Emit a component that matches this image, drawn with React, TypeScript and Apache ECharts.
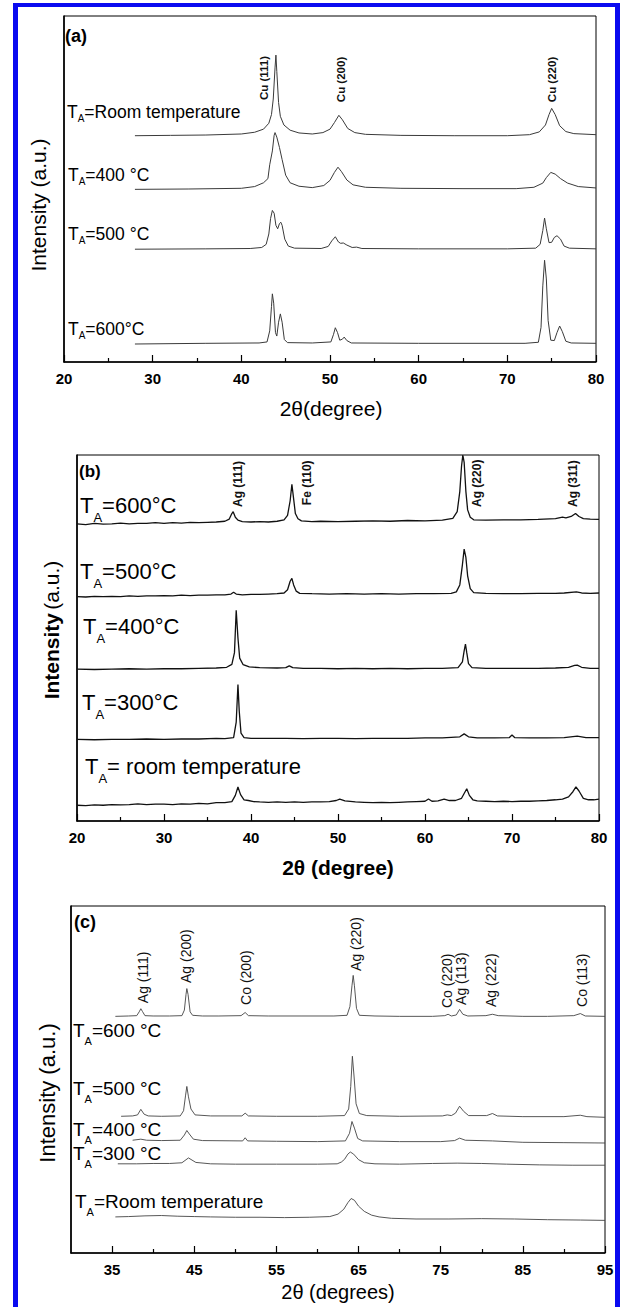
import React, { useEffect, useRef } from "react";
import * as echarts from "echarts";

// ---------------- Panel (a) data ----------------
const aTicks = [20, 30, 40, 50, 60, 70, 80];
const aMinorTicks = [25, 35, 45, 55, 65, 75];
const aRoomT: number[][] = [
  [28, 65.4], [32, 65.5], [36, 65.6], [40, 65.9], [41.5, 66.4], [42.5, 67.3], [43.1, 69], [43.4, 71.5],
  [43.6, 76], [43.8, 85], [43.9, 88.7], [44.0, 84], [44.2, 75], [44.4, 71], [44.8, 68.5], [45.5, 67],
  [46.5, 66.2], [48, 65.9], [49.2, 66.3], [50.0, 67.3], [50.5, 69.2], [51.0, 71.3], [51.4, 70], [52, 67.5],
  [52.8, 66.3], [54, 65.8], [58, 65.5], [64, 65.4], [70, 65.4], [72.5, 65.7], [73.6, 66.5], [74.3, 68.5],
  [74.7, 71.5], [75.0, 73.3], [75.4, 71.5], [75.9, 68.3], [76.6, 66.6], [77.5, 66], [80, 65.7],
];
const a400: number[][] = [
  [28, 49.9], [34, 50], [40, 50.2], [41.5, 50.7], [42.5, 51.8], [43.0, 53], [43.2, 57], [43.5, 61],
  [43.7, 65.5], [43.8, 66.3], [44.0, 65], [44.3, 62], [44.6, 58.5], [45.0, 54], [45.5, 51.8], [46.5, 50.8],
  [48, 50.4], [49.3, 51], [50.0, 52.5], [50.5, 54.8], [50.9, 56.3], [51.3, 55], [51.9, 52.6], [52.6, 51.2],
  [54, 50.5], [58, 50.2], [65, 50.1], [71, 50.1], [73, 50.5], [74, 51.7], [74.4, 53.3], [74.9, 54.8],
  [75.4, 54.3], [76, 53], [76.8, 51.7], [78, 50.7], [80, 50.3],
];
const a500: number[][] = [
  [28, 32.6], [36, 32.7], [41, 32.8], [42.3, 33.1], [42.8, 34], [43.1, 37], [43.3, 41.5], [43.5, 43.8],
  [43.7, 43], [43.9, 39.5], [44.1, 38.5], [44.3, 40], [44.45, 40.4], [44.6, 39.5], [44.9, 35.5], [45.3, 33.5],
  [46, 32.9], [49, 32.8], [49.8, 33.4], [50.2, 35], [50.6, 36.2], [50.95, 34.7], [51.2, 34.3], [51.5, 34.4],
  [51.9, 33.8], [52.5, 33.1], [53, 33.2], [53.6, 32.8], [60, 32.7], [70, 32.7], [73.2, 32.9], [73.7, 34],
  [74.0, 38], [74.2, 41.6], [74.4, 38.5], [74.7, 34.5], [75.0, 34.6], [75.3, 36], [75.6, 36.5], [76.0, 35.5],
  [76.4, 33.5], [77, 32.9], [80, 32.7],
];
const a600: number[][] = [
  [28, 5.2], [36, 5.4], [42, 5.5], [42.9, 5.8], [43.2, 9], [43.4, 16], [43.5, 19.7], [43.65, 17],
  [43.85, 8.5], [44.0, 7.5], [44.2, 11.5], [44.4, 13.9], [44.6, 11.5], [44.85, 6.5], [45.2, 5.6], [48, 5.5],
  [50.1, 5.8], [50.4, 8], [50.6, 9.9], [50.85, 8.5], [51.1, 6.3], [51.4, 6.6], [51.6, 7.2], [51.9, 6.2],
  [52.4, 5.5], [60, 5.4], [72, 5.4], [73.5, 5.7], [73.8, 10], [74.0, 22], [74.2, 29.4], [74.4, 24],
  [74.6, 12], [74.9, 6.3], [75.3, 6.2], [75.6, 8.5], [75.9, 10.4], [76.2, 8.8], [76.6, 6], [77.2, 5.5], [80, 5.4],
];

// ---------------- Panel (b) data ----------------
const bTicks = [20, 30, 40, 50, 60, 70, 80];
const bMinorTicks = [25, 35, 45, 55, 65, 75];
const b600: number[][] = [
  [20, 81.2], [21, 81.0], [22, 81.3], [23, 81.1], [24, 81.2], [25, 81.4], [26, 81.2], [27, 81.3], [28, 81.3],
  [29, 81.5], [30, 81.3], [31, 81.5], [32, 81.4], [33, 81.6], [34, 81.5], [35, 81.6], [36, 81.7], [37, 81.9],
  [37.5, 82.5], [37.8, 84.0], [37.95, 84.5], [38.2, 83.0], [38.5, 82.2], [39, 81.8], [40, 81.7], [41, 81.8],
  [42, 81.7], [43, 81.9], [43.8, 82.3], [44.2, 83.5], [44.5, 87.5], [44.7, 92.0], [44.9, 88], [45.1, 84],
  [45.4, 82.6], [45.8, 82.0], [47, 81.8], [48, 81.9], [50, 81.8], [52, 81.9], [54, 82.0], [56, 81.9],
  [58, 82.1], [60, 82.0], [62, 82.2], [63.2, 82.7], [63.7, 84.5], [64.0, 90], [64.2, 97], [64.35, 100],
  [64.5, 98], [64.7, 90], [64.9, 85], [65.2, 83], [65.6, 82.3], [67, 82.2], [69, 82.3], [71, 82.3],
  [73, 82.4], [75, 82.6], [75.8, 83.0], [76.2, 82.8], [76.8, 83.2], [77.3, 84.0], [77.7, 83.2], [78.2, 82.6],
  [79, 82.5], [80, 82.4],
];
const b500: number[][] = [
  [20, 61.3], [21, 61.2], [22, 61.4], [23, 61.3], [24, 61.4], [25, 61.3], [26, 61.5], [27, 61.4], [28, 61.5],
  [29, 61.5], [30, 61.6], [31, 61.5], [32, 61.7], [33, 61.6], [34, 61.7], [35, 61.7], [36, 61.8], [37, 61.8],
  [37.7, 62.0], [38.0, 62.5], [38.3, 62.0], [39, 61.8], [40, 61.9], [41, 61.9], [42, 62.0], [43, 62.1],
  [43.8, 62.3], [44.2, 63.2], [44.5, 65.5], [44.7, 66.3], [44.9, 64.5], [45.2, 62.8], [45.6, 62.2], [47, 62.1],
  [49, 62.0], [51, 62.1], [53, 62.0], [55, 62.1], [57, 62.0], [59, 62.1], [61, 62.1], [63, 62.2],
  [63.6, 62.6], [64.0, 64.5], [64.3, 70], [64.5, 74.3], [64.7, 72], [64.9, 67], [65.2, 63.5], [65.6, 62.4],
  [67, 62.2], [69, 62.1], [71, 62.1], [73, 62.2], [75, 62.2], [76, 62.3], [77.4, 62.6], [78, 62.3],
  [79, 62.2], [80, 62.3],
];
const b400: number[][] = [
  [20, 41.5], [22, 41.4], [24, 41.5], [26, 41.6], [28, 41.5], [30, 41.6], [32, 41.6], [34, 41.7], [36, 41.8],
  [37.2, 42.0], [37.8, 42.8], [38.1, 46], [38.3, 57.6], [38.5, 50], [38.7, 44.5], [39.1, 42.7], [39.8, 42.1],
  [41, 41.9], [43, 41.8], [44, 41.9], [44.4, 42.4], [44.8, 41.9], [46, 41.7], [48, 41.7], [50, 41.6],
  [52, 41.7], [54, 41.6], [56, 41.7], [58, 41.6], [60, 41.7], [62, 41.7], [63.8, 41.9], [64.3, 43.5],
  [64.5, 46.5], [64.65, 48.3], [64.8, 46], [65.0, 43], [65.4, 41.9], [67, 41.7], [70, 41.7], [73, 41.7],
  [75, 41.8], [76.5, 42.0], [77.2, 42.5], [77.5, 42.6], [78, 42.0], [79, 41.7], [80, 41.7],
];
const b300: number[][] = [
  [20, 22.3], [22, 22.2], [24, 22.3], [26, 22.3], [28, 22.4], [30, 22.3], [32, 22.4], [34, 22.4], [36, 22.6],
  [37, 22.5], [38.0, 22.8], [38.3, 27], [38.5, 37.3], [38.65, 30], [38.85, 24], [39.2, 22.8], [40, 22.6],
  [42, 22.6], [44, 22.6], [46, 22.5], [48, 22.6], [50, 22.6], [52, 22.5], [54, 22.6], [56, 22.6], [58, 22.6],
  [60, 22.7], [62, 22.7], [64.0, 23.0], [64.5, 23.8], [65.0, 23.0], [66, 22.7], [68, 22.7], [69.7, 22.8],
  [70.0, 23.5], [70.3, 22.8], [72, 22.7], [74, 22.7], [76, 22.8], [77.5, 23.2], [78.5, 22.8], [80, 22.8],
];
const bRoomT: number[][] = [
  [20, 4.3], [21, 4.2], [22, 4.4], [23, 4.3], [24, 4.5], [25, 4.4], [26, 4.5], [27, 4.7], [28, 4.5], [29, 4.6],
  [30, 4.6], [31, 4.5], [32, 4.7], [33, 4.6], [34, 4.8], [35, 4.7], [36, 5.0], [37, 5.0], [37.8, 5.3],
  [38.2, 7], [38.5, 9.3], [38.8, 7.2], [39.2, 5.8], [39.7, 5.6], [40.3, 5.3], [41, 5.2], [42, 5.1], [43, 5.2],
  [44, 5.1], [45, 5.2], [46, 5.1], [47, 5.2], [48, 5.2], [49, 5.3], [49.8, 5.6], [50.2, 6.0], [50.8, 5.5],
  [52, 5.2], [53, 5.1], [54, 5.0], [55, 5.1], [56, 5.0], [57, 5.1], [58, 5.2], [59, 5.3], [60, 5.4],
  [60.4, 6.0], [60.8, 5.4], [61.5, 5.5], [62.2, 6.0], [62.8, 5.6], [63.5, 5.6], [64.2, 6.2], [64.5, 7.5],
  [64.8, 8.8], [65.1, 7], [65.5, 5.8], [66, 5.5], [67, 5.4], [68, 5.3], [69, 5.4], [70, 5.3], [71, 5.4],
  [72, 5.4], [73, 5.5], [74, 5.6], [75, 5.8], [75.8, 6.0], [76.5, 6.6], [77.0, 8], [77.35, 9.3], [77.7, 8.2],
  [78.2, 6.2], [78.8, 5.8], [79.4, 5.8], [80, 6.0],
];

// ---------------- Panel (c) data ----------------
const cTicks = [35, 45, 55, 65, 75, 85, 95];
const cMinorTicks = [40, 50, 60, 70, 80, 90];
const c600: number[][] = [
  [35.4, 68.2], [37, 68.3], [38.0, 68.4], [38.3, 69.5], [38.5, 70.4], [38.7, 69.6], [39.0, 68.4], [40, 68.3],
  [42, 68.3], [43.5, 68.4], [43.8, 70], [44.0, 74.5], [44.1, 76.2], [44.25, 74.5], [44.5, 69.5], [44.8, 68.5],
  [46, 68.3], [48, 68.3], [50.7, 68.4], [51.2, 69.3], [51.6, 68.4], [54, 68.3], [58, 68.3], [62, 68.3],
  [63.6, 68.5], [63.95, 71], [64.2, 77], [64.35, 80], [64.5, 77], [64.75, 70.5], [65.1, 68.5], [67, 68.3],
  [70, 68.2], [74, 68.2], [75.5, 68.4], [75.9, 68.8], [76.3, 68.3], [76.9, 68.6], [77.3, 70.2], [77.7, 68.8],
  [78.3, 68.3], [80.5, 68.4], [81.3, 68.8], [82.0, 68.4], [85, 68.2], [88, 68.2], [91.2, 68.4], [92.0, 69.0],
  [92.6, 68.3], [95, 68.2],
];
const c500: number[][] = [
  [36.1, 39.4], [37.5, 39.5], [38.1, 39.8], [38.5, 41.4], [38.9, 40], [39.4, 39.5], [41, 39.4], [43.3, 39.5],
  [43.7, 41], [43.95, 45.5], [44.1, 48], [44.3, 45], [44.6, 41.5], [45.1, 39.8], [47, 39.5], [50.8, 39.5],
  [51.2, 40.3], [51.6, 39.5], [55, 39.4], [60, 39.4], [63.3, 39.6], [63.8, 41.5], [64.05, 48], [64.25, 56.7],
  [64.45, 51], [64.7, 43], [65.1, 40.2], [66, 39.6], [70, 39.4], [75.2, 39.5], [75.8, 39.8], [76.3, 39.6],
  [76.8, 40.3], [77.3, 42.3], [77.8, 40.8], [78.4, 39.6], [80.6, 39.6], [81.3, 40.2], [81.9, 39.5], [85, 39.3],
  [90, 39.3], [92.0, 39.7], [92.8, 39.3], [95, 39.1],
];
const c400: number[][] = [
  [37.5, 32.5], [38.5, 32.8], [39.2, 32.5], [41, 32.4], [43.3, 32.5], [43.8, 34], [44.1, 35.3], [44.4, 34.3],
  [44.9, 32.8], [46, 32.4], [50.9, 32.3], [51.2, 33.2], [51.5, 32.3], [55, 32.2], [60, 32.1], [63.4, 32.3],
  [63.9, 34.5], [64.2, 37.9], [64.5, 36], [64.9, 33], [65.5, 32.3], [70, 32.1], [75, 32.1], [76.7, 32.4],
  [77.3, 33.1], [78.0, 32.5], [81.3, 32.3], [85, 31.9], [90, 31.8], [95, 31.7],
];
const c300: number[][] = [
  [35.7, 25.7], [38, 25.7], [40, 25.8], [42, 25.8], [43.5, 26.0], [44.3, 27.4], [45.2, 26.1], [47, 25.7],
  [50, 25.6], [55, 25.6], [60, 25.6], [62.4, 25.7], [62.9, 26.2], [63.3, 27], [63.7, 28.5], [64.0, 29.1],
  [64.4, 28.5], [65, 26.9], [65.7, 26.0], [67, 25.7], [70, 25.6], [74, 25.8], [77, 25.9], [80, 25.8],
  [83, 25.6], [87, 25.4], [91, 25.3], [95, 25.3],
];
const cRoomT: number[][] = [
  [35.4, 10.4], [37, 10.5], [39, 10.7], [41, 10.8], [43, 10.6], [45, 10.5], [47, 10.4], [50, 10.3], [53, 10.3],
  [56, 10.2], [59, 10.3], [61.5, 10.5], [62.5, 11.2], [63.2, 12.6], [63.7, 14.5], [64.1, 15.7], [64.5, 15.2],
  [65.0, 13.5], [65.7, 12.0], [66.6, 10.9], [67.5, 10.4], [69, 10.0], [72, 9.8], [76, 9.8], [80, 9.9],
  [84, 9.8], [88, 9.6], [92, 9.5], [95, 9.4],
];

// ---------------- Layout ----------------
const FONT = "Liberation Sans, Arial, Helvetica, sans-serif";

type Panel = {
  grid: { left: number; top: number; width: number; height: number };
  min: number; max: number;
  ticks: number[]; minor: number[];
  traces: number[][][];
  lineColor: string; lineWidth: number;
};

const panels: Panel[] = [
  { grid: { left: 64, top: 16, width: 532, height: 346 }, min: 20, max: 80, ticks: aTicks, minor: aMinorTicks,
    traces: [aRoomT, a400, a500, a600], lineColor: "#3a3a3a", lineWidth: 1 },
  { grid: { left: 77, top: 455, width: 522, height: 366 }, min: 20, max: 80, ticks: bTicks, minor: bMinorTicks,
    traces: [b600, b500, b400, b300, bRoomT], lineColor: "#111", lineWidth: 1.3 },
  { grid: { left: 71, top: 906, width: 534, height: 347 }, min: 30, max: 95, ticks: cTicks, minor: cMinorTicks,
    traces: [c600, c500, c400, c300, cRoomT], lineColor: "#444", lineWidth: 0.9 },
];

// trace labels: [text after "T_A", left px, centre y px]
const traceLabels = [
  { size: 17.5, sub: 10, lh: 24, items: [["=Room temperature", 67, 111.5], ["=400 °C", 68, 174.5], ["=500 °C", 68, 233.5], ["=600°C", 68, 328.5]] },
  { size: 22, sub: 13, lh: 38, items: [["=600°C", 80, 505], ["=500°C", 80, 571], ["=400°C", 83, 626], ["=300°C", 82, 702], ["= room temperature", 85, 766]] },
  { size: 19, sub: 11, lh: 33, items: [["=600 °C", 73, 1030], ["=500 °C", 73, 1088], ["=400 °C", 73, 1129], ["=300 °C", 73, 1153], ["=Room temperature", 75, 1201]] },
];

// rotated peak labels: [text, 2θ of label, bottom of label in axis units]
const peakLabels = [
  { size: 11.5, weight: "bold", items: [["Cu (111)", 42.5, 75.7], ["Cu (200)", 51.2, 75.1], ["Cu (220)", 75.0, 75.1]] },
  { size: 12, weight: "bold", items: [["Ag (111)", 38.5, 85.8], ["Fe (110)", 46.4, 86.3], ["Ag (220)", 66.0, 85.8], ["Ag (311)", 77.0, 85.8]] },
  { size: 14, weight: "normal", items: [["Ag (111)", 38.8, 72.0], ["Ag (200)", 44.0, 77.8], ["Co (200)", 51.3, 71.5], ["Ag (220)", 64.7, 81.3],
    ["Co (220)", 75.8, 70.6], ["Ag (113)", 77.5, 71.5], ["Ag (222)", 81.1, 70.9], ["Co (113)", 92.2, 70.9]] },
];

export default function App() {
  const ref = useRef<HTMLDivElement>(null);
  useEffect(() => {
    const chart = echarts.init(ref.current!, null, { renderer: "svg" });
    const grid: any[] = [];
    const xAxis: any[] = [];
    const yAxis: any[] = [];
    const series: any[] = [];
    panels.forEach((p, i) => {
      grid.push({ ...p.grid, show: true, borderColor: "#000", borderWidth: 1, backgroundColor: "transparent" });
      xAxis.push({
        type: "value", gridIndex: i, min: p.min, max: p.max, interval: 5, position: "bottom",
        axisLine: { show: true, onZero: false, lineStyle: { color: "#000", width: 1.6 } },
        axisTick: { show: true, inside: true, length: 7, customValues: p.ticks, lineStyle: { color: "#000", width: 1.2 } },
        axisLabel: { show: true, customValues: p.ticks, margin: 9, color: "#000", fontFamily: FONT, fontSize: 15, fontWeight: "bold" },
        splitLine: { show: false },
      });
      xAxis.push({
        type: "value", gridIndex: i, min: p.min, max: p.max, interval: 5, position: "bottom",
        axisLine: { show: false },
        axisTick: { show: true, inside: true, length: 4, customValues: p.minor, lineStyle: { color: "#000", width: 1.2 } },
        axisLabel: { show: false },
        splitLine: { show: false },
      });
      yAxis.push({
        type: "value", gridIndex: i, min: 0, max: 100,
        axisLine: { show: true, onZero: false, lineStyle: { color: "#000", width: 1.6 } },
        axisTick: { show: false }, axisLabel: { show: false }, splitLine: { show: false },
      });
      p.traces.forEach((t) => {
        series.push({
          type: "line", xAxisIndex: 2 * i, yAxisIndex: i, data: t, showSymbol: false, symbol: "none",
          silent: true, clip: true, lineStyle: { color: p.lineColor, width: p.lineWidth }, z: 3,
        });
      });
    });

    chart.setOption({ animation: false, backgroundColor: "#fff", grid, xAxis, yAxis, series });

    const graphic: any[] = [];
    // blue frame
    const blue = "#0a0af0";
    graphic.push({ type: "rect", shape: { x: 13, y: 3, width: 5, height: 1310 }, style: { fill: blue }, silent: true });
    graphic.push({ type: "rect", shape: { x: 13, y: 3, width: 607, height: 4 }, style: { fill: blue }, silent: true });
    graphic.push({ type: "rect", shape: { x: 615, y: 3, width: 5, height: 1310 }, style: { fill: blue }, silent: true });

    // panel letters
    [["(a)", 65, 36, 18], ["(b)", 79, 471, 17], ["(c)", 74, 922, 18]].forEach(([t, x, y, s]) => {
      graphic.push({ type: "text", x, y, style: { text: t, fill: "#000", font: `bold ${s}px ${FONT}`, align: "left", verticalAlign: "middle" } });
    });

    // trace labels with subscript A
    traceLabels.forEach((g) => {
      g.items.forEach(([t, x, y]) => {
        graphic.push({
          type: "text", x, y,
          style: {
            text: `{m|T}{s|A}{m|${t}}`, align: "left", verticalAlign: "middle", fill: "#000",
            rich: {
              m: { fontFamily: FONT, fontSize: g.size, lineHeight: g.lh, fill: "#000", verticalAlign: "middle" },
              s: { fontFamily: FONT, fontSize: g.sub, lineHeight: g.sub, fill: "#000", verticalAlign: "bottom" },
            },
          },
        });
      });
    });

    // rotated peak labels
    peakLabels.forEach((g, i) => {
      g.items.forEach(([t, xv, yv]) => {
        const pt = chart.convertToPixel({ xAxisIndex: 2 * i, yAxisIndex: i } as any, [xv as number, yv as number]) as number[];
        graphic.push({
          type: "text", x: pt[0], y: pt[1], rotation: Math.PI / 2,
          style: { text: t, fill: "#111", font: `${g.weight} ${g.size}px ${FONT}`, align: "left", verticalAlign: "middle" },
        });
      });
    });

    // axis titles
    graphic.push({ type: "text", x: 331, y: 408, style: { text: "2θ(degree)", fill: "#000", font: `21px ${FONT}`, align: "center", verticalAlign: "middle" } });
    graphic.push({ type: "text", x: 338, y: 867, style: { text: "2θ (degree)", fill: "#000", font: `bold 21px ${FONT}`, align: "center", verticalAlign: "middle" } });
    graphic.push({ type: "text", x: 338, y: 1292, style: { text: "2θ (degrees)", fill: "#000", font: `20px ${FONT}`, align: "center", verticalAlign: "middle" } });
    graphic.push({ type: "text", x: 38, y: 205, rotation: Math.PI / 2, style: { text: "Intensity (a.u.)", fill: "#000", font: `21px ${FONT}`, align: "center", verticalAlign: "middle" } });
    graphic.push({
      type: "text", x: 51, y: 630, rotation: Math.PI / 2,
      style: {
        text: "{b|Intensity} {r|(a.u.)}", align: "center", verticalAlign: "middle", fill: "#000",
        rich: { b: { fontFamily: FONT, fontSize: 21, fontWeight: "bold", fill: "#000" }, r: { fontFamily: FONT, fontSize: 21, fill: "#000" } },
      },
    });
    graphic.push({ type: "text", x: 47, y: 1093, rotation: Math.PI / 2, style: { text: "Intensity (a.u.)", fill: "#000", font: `22px ${FONT}`, align: "center", verticalAlign: "middle" } });

    chart.setOption({ graphic });
    return () => chart.dispose();
  }, []);
  return <div ref={ref} style={{ position: "absolute", left: 0, top: 0, width: 621, height: 1307, background: "#fff" }} />;
}
